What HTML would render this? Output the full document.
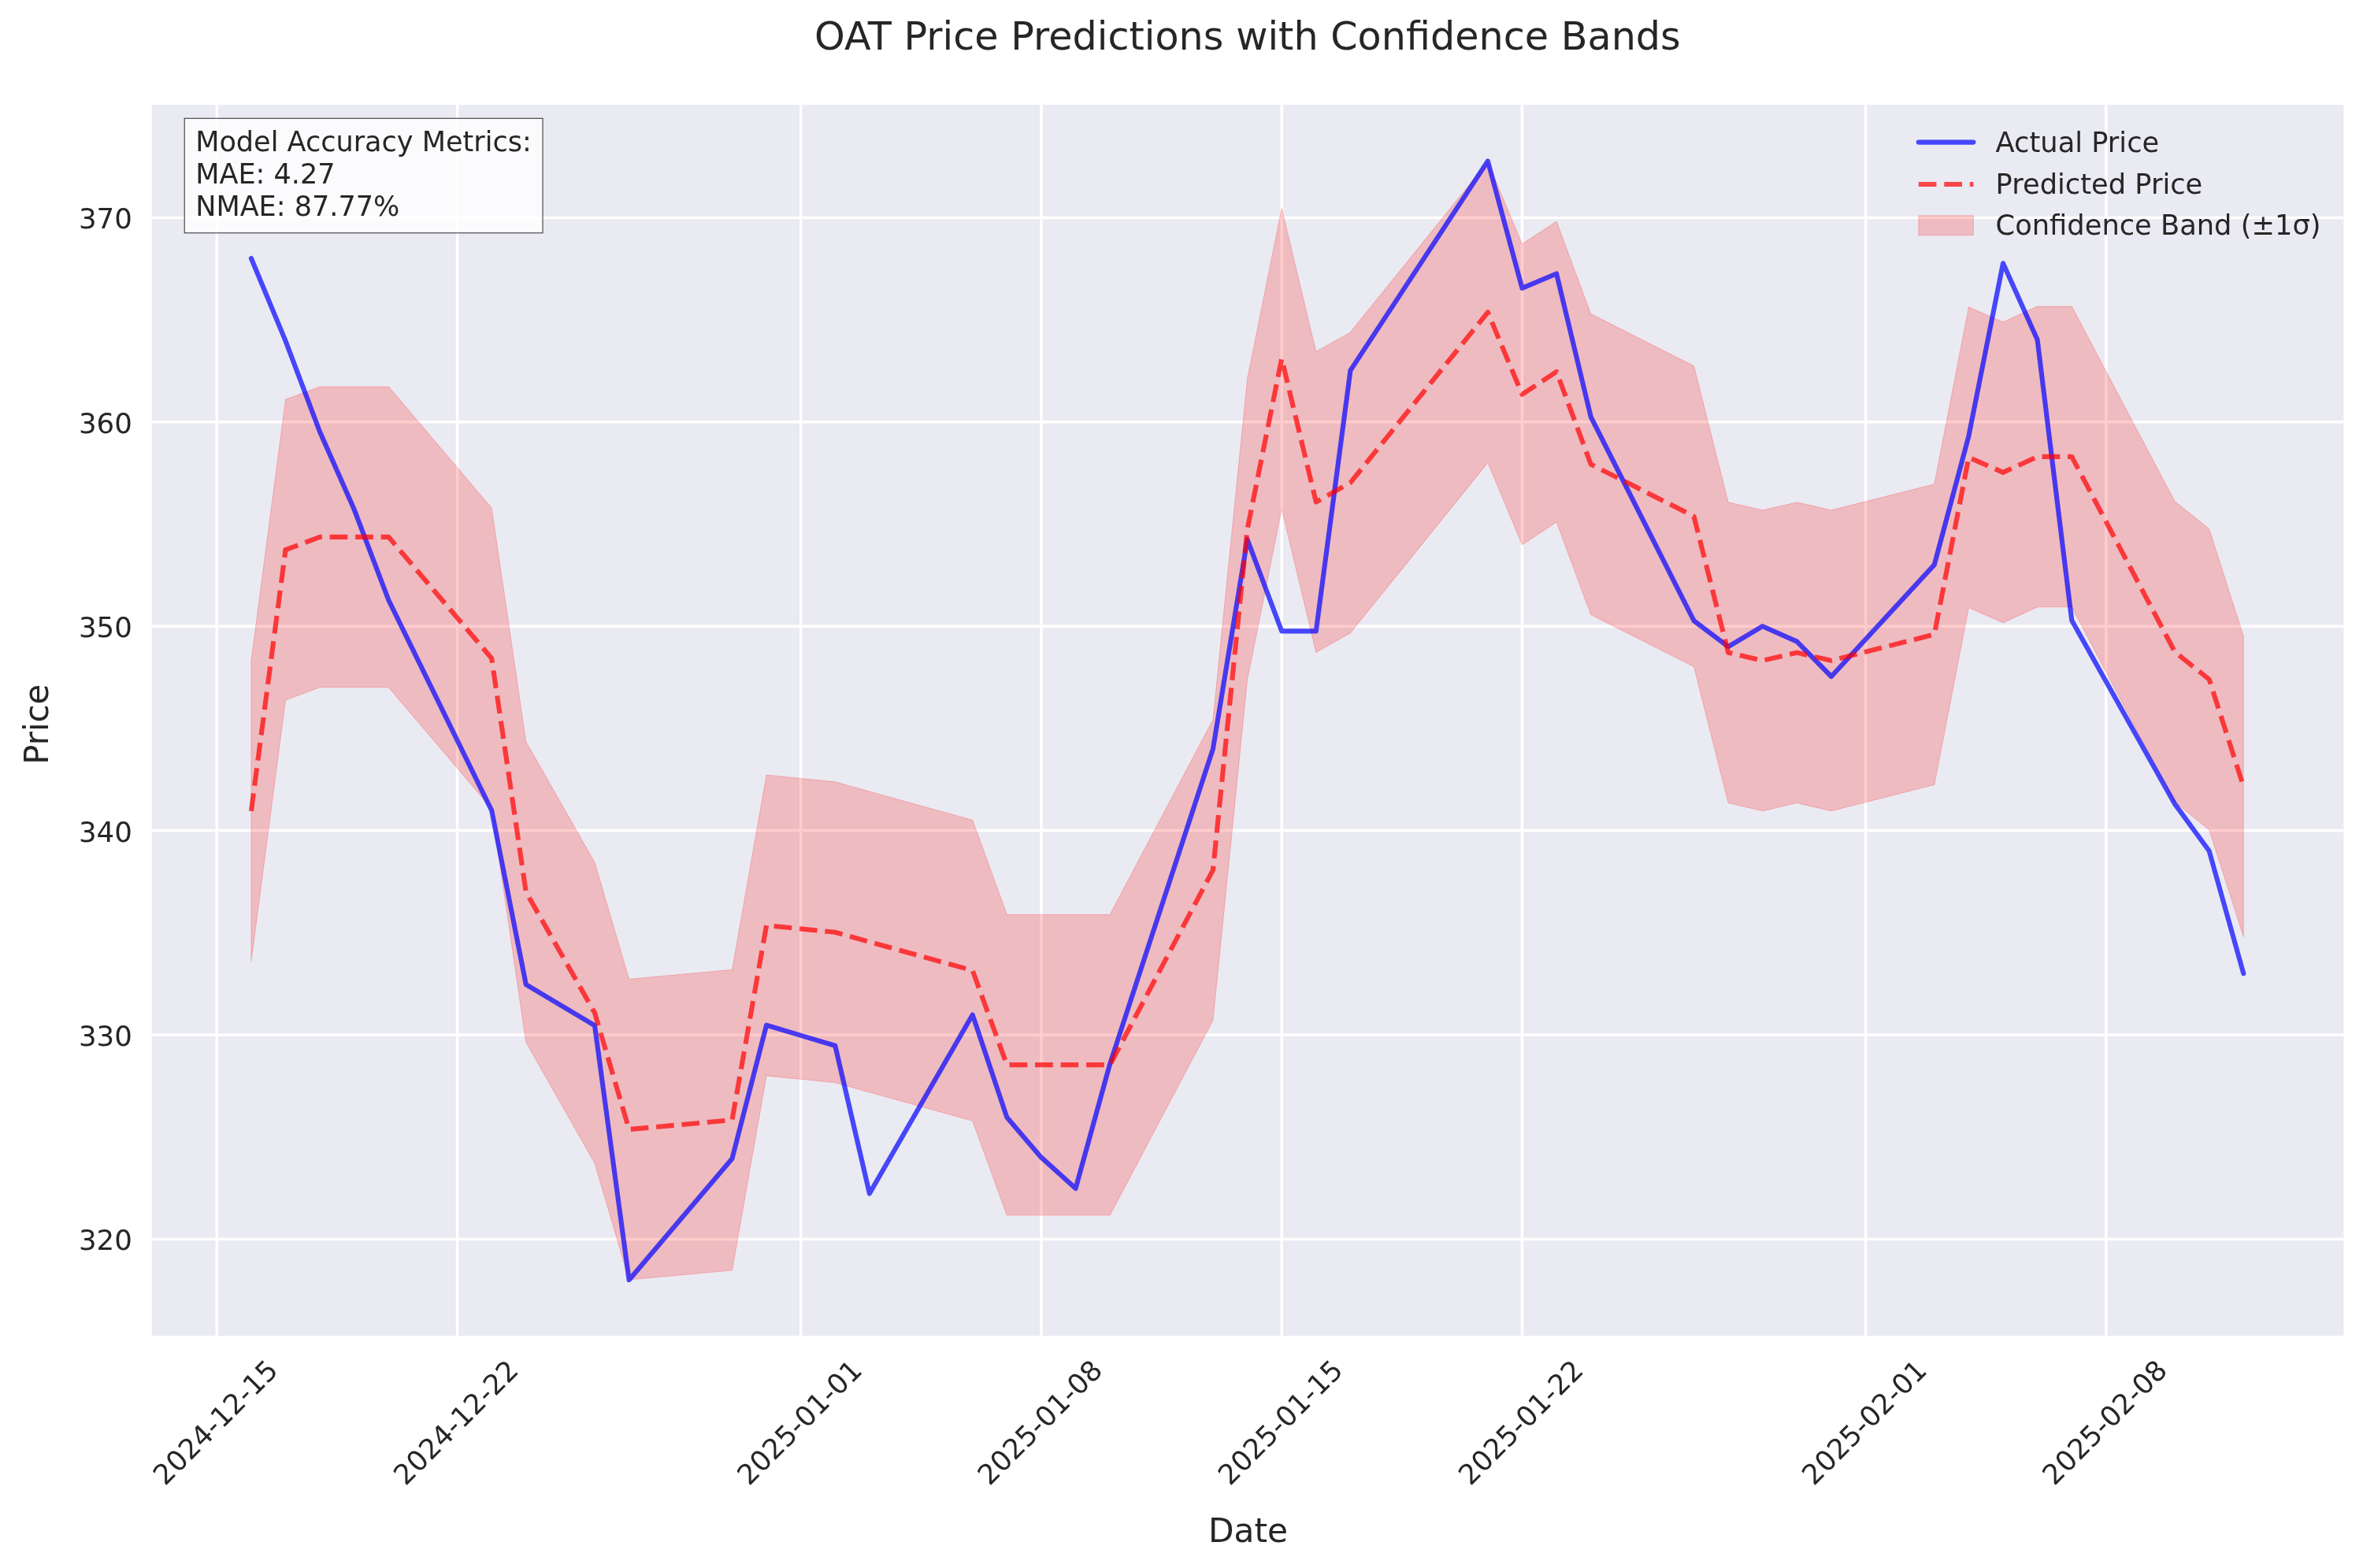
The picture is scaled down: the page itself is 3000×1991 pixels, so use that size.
<!DOCTYPE html>
<html><head><meta charset="utf-8"><title>OAT Price Predictions with Confidence Bands</title>
<style>html,body{margin:0;padding:0;background:#fff;width:3000px;height:1991px;overflow:hidden}svg{display:block;will-change:transform}text{font-family:'DejaVu Sans', 'Liberation Sans', sans-serif;fill:#262626}</style></head><body>
<svg width="3000" height="1991" viewBox="0 0 3000 1991">
<rect x="0" y="0" width="3000" height="1991" fill="#ffffff"/>
<defs><clipPath id="ax"><rect x="192.76" y="133.2" width="2782.64" height="1562.9"/></clipPath></defs>
<rect x="192.76" y="133.2" width="2782.64" height="1562.9" fill="#eaeaf2"/>
<g clip-path="url(#ax)" stroke="#ffffff" stroke-width="3.5" stroke-linecap="round" fill="none">
<line x1="275.3" y1="1696.1" x2="275.3" y2="133.2"/>
<line x1="580.57" y1="1696.1" x2="580.57" y2="133.2"/>
<line x1="1016.67" y1="1696.1" x2="1016.67" y2="133.2"/>
<line x1="1321.94" y1="1696.1" x2="1321.94" y2="133.2"/>
<line x1="1627.21" y1="1696.1" x2="1627.21" y2="133.2"/>
<line x1="1932.48" y1="1696.1" x2="1932.48" y2="133.2"/>
<line x1="2368.58" y1="1696.1" x2="2368.58" y2="133.2"/>
<line x1="2673.85" y1="1696.1" x2="2673.85" y2="133.2"/>
<line x1="192.76" y1="1573.4" x2="2975.4" y2="1573.4"/>
<line x1="192.76" y1="1314" x2="2975.4" y2="1314"/>
<line x1="192.76" y1="1054.6" x2="2975.4" y2="1054.6"/>
<line x1="192.76" y1="795.2" x2="2975.4" y2="795.2"/>
<line x1="192.76" y1="535.8" x2="2975.4" y2="535.8"/>
<line x1="192.76" y1="276.4" x2="2975.4" y2="276.4"/>
</g>
<g clip-path="url(#ax)">
<polygon points="318.91,839.04 362.52,507.27 406.13,490.92 449.74,490.92 493.35,490.92 624.18,645.01 667.79,941.76 755.01,1095.07 798.62,1243.18 929.45,1231.25 973.06,984.04 1060.28,992.86 1103.89,1005.05 1234.72,1041.37 1278.33,1161.21 1321.94,1161.21 1365.55,1161.21 1409.16,1161.21 1539.99,913.75 1583.6,481.07 1627.21,264.47 1670.82,446.57 1714.43,421.92 1888.87,205.58 1932.48,309.86 1976.09,281.07 2019.7,398.58 2150.53,464.72 2194.14,637.74 2237.75,647.86 2281.36,637.74 2324.97,647.86 2455.8,614.66 2499.41,389.76 2543.02,408.95 2586.63,388.98 2630.24,388.98 2761.07,636.71 2804.68,671.73 2848.29,807.65 2848.29,1189.49 2804.68,1053.56 2761.07,1018.54 2630.24,770.82 2586.63,770.82 2543.02,790.79 2499.41,771.59 2455.8,996.49 2324.97,1029.7 2281.36,1019.58 2237.75,1029.7 2194.14,1019.58 2150.53,846.56 2019.7,780.41 1976.09,662.91 1932.48,691.7 1888.87,587.42 1714.43,803.76 1670.82,828.4 1627.21,646.3 1583.6,862.9 1539.99,1295.58 1409.16,1543.05 1365.55,1543.05 1321.94,1543.05 1278.33,1543.05 1234.72,1423.21 1103.89,1386.89 1060.28,1374.7 973.06,1365.88 929.45,1613.09 798.62,1625.02 755.01,1476.9 667.79,1323.6 624.18,1026.84 493.35,872.76 449.74,872.76 406.13,872.76 362.52,889.1 318.91,1220.88" fill="#ff0000" fill-opacity="0.2" stroke="#ff0000" stroke-opacity="0.2" stroke-width="1.04" stroke-linejoin="round"/>
<polyline points="318.91,328.02 362.52,432.82 406.13,548.51 449.74,647.08 493.35,762 624.18,1029.18 667.79,1250.19 755.01,1302.07 798.62,1625.28 929.45,1471.2 973.06,1301.81 1060.28,1327.75 1103.89,1515.55 1234.72,1288.58 1278.33,1418.8 1321.94,1469.64 1365.55,1509.07 1409.16,1350.83 1539.99,950.84 1583.6,684.96 1627.21,801.43 1670.82,801.43 1714.43,470.43 1888.87,204.55 1932.48,365.89 1976.09,347.48 2019.7,529.32 2150.53,788.2 2194.14,821.14 2237.75,795.2 2281.36,814.66 2324.97,859.01 2455.8,717.12 2499.41,553.7 2543.02,334.25 2586.63,431.52 2630.24,787.68 2761.07,1020.88 2804.68,1080.54 2848.29,1236.18" fill="none" stroke="#0000ff" stroke-opacity="0.7" stroke-width="6.13" stroke-linejoin="round" stroke-linecap="round"/>
<g opacity="0.7" fill="none" stroke="#ff0000" stroke-width="6.13" stroke-linejoin="round" stroke-linecap="butt" stroke-dasharray="22.68 9.81">
<polyline points="318.91,1029.96 362.52,698.18"/>
<polyline points="362.52,698.18 406.13,681.84 449.74,681.84 493.35,681.84 624.18,835.93 667.79,1132.68 755.01,1285.98 798.62,1434.1 929.45,1422.17 973.06,1174.96 1060.28,1183.78 1103.89,1195.97 1234.72,1232.29 1278.33,1352.13 1321.94,1352.13 1365.55,1352.13 1409.16,1352.13 1539.99,1104.66 1583.6,671.99 1627.21,455.39 1670.82,637.48 1714.43,612.84 1888.87,396.5 1932.48,500.78 1976.09,471.99 2019.7,589.5 2150.53,655.64 2194.14,828.66 2237.75,838.78 2281.36,828.66 2324.97,838.78 2455.8,805.58 2499.41,580.68 2543.02,599.87 2586.63,579.9 2630.24,579.9 2761.07,827.62 2804.68,862.64 2848.29,998.57" stroke-dashoffset="5.9"/>
<circle cx="362.52" cy="698.18" r="3.065" fill="#ff0000" stroke="none"/>
</g>
</g>
<text x="167.9" y="1587.3" font-size="35.6" text-anchor="end">320</text>
<text x="167.9" y="1327.9" font-size="35.6" text-anchor="end">330</text>
<text x="167.9" y="1068.5" font-size="35.6" text-anchor="end">340</text>
<text x="167.9" y="809.1" font-size="35.6" text-anchor="end">350</text>
<text x="167.9" y="549.7" font-size="35.6" text-anchor="end">360</text>
<text x="167.9" y="290.3" font-size="35.6" text-anchor="end">370</text>
<text x="355" y="1742" font-size="35.4" text-anchor="end" transform="rotate(-45 355 1742)">2024-12-15</text>
<text x="660.27" y="1742" font-size="35.4" text-anchor="end" transform="rotate(-45 660.27 1742)">2024-12-22</text>
<text x="1096.37" y="1742" font-size="35.4" text-anchor="end" transform="rotate(-45 1096.37 1742)">2025-01-01</text>
<text x="1401.64" y="1742" font-size="35.4" text-anchor="end" transform="rotate(-45 1401.64 1742)">2025-01-08</text>
<text x="1706.91" y="1742" font-size="35.4" text-anchor="end" transform="rotate(-45 1706.91 1742)">2025-01-15</text>
<text x="2012.18" y="1742" font-size="35.4" text-anchor="end" transform="rotate(-45 2012.18 1742)">2025-01-22</text>
<text x="2448.28" y="1742" font-size="35.4" text-anchor="end" transform="rotate(-45 2448.28 1742)">2025-02-01</text>
<text x="2753.55" y="1742" font-size="35.4" text-anchor="end" transform="rotate(-45 2753.55 1742)">2025-02-08</text>
<text x="1584.6" y="1957.7" font-size="42.3" text-anchor="middle">Date</text>
<text x="61" y="919.7" font-size="41.9" text-anchor="middle" transform="rotate(-90 61 919.7)">Price</text>
<text x="1583.9" y="62.8" font-size="49.24" text-anchor="middle">OAT Price Predictions with Confidence Bands</text>
<rect x="234.2" y="150.3" width="454.8" height="145.5" fill="#ffffff" fill-opacity="0.8" stroke="#000000" stroke-opacity="0.8" stroke-width="1.04"/>
<text x="248.2" y="192.3" font-size="35.05">Model Accuracy Metrics:</text>
<text x="248.2" y="233" font-size="35.05">MAE: 4.27</text>
<text x="248.2" y="273.7" font-size="35.05">NMAE: 87.77%</text>
<line x1="2435.8" y1="180.6" x2="2505.4" y2="180.6" stroke="#0000ff" stroke-opacity="0.7" stroke-width="6.13" stroke-linecap="round"/>
<line x1="2435.8" y1="234" x2="2505.4" y2="234" stroke="#ff0000" stroke-opacity="0.7" stroke-width="6.13" stroke-linecap="butt" stroke-dasharray="22.68 9.81"/>
<rect x="2435.8" y="273.8" width="69.6" height="24.9" fill="#ff0000" fill-opacity="0.2" stroke="#ff0000" stroke-opacity="0.2" stroke-width="1.04"/>
<text x="2533.6" y="193.3" font-size="35.25">Actual Price</text>
<text x="2533.6" y="245.7" font-size="35.25">Predicted Price</text>
<text x="2533.6" y="297.6" font-size="35.25">Confidence Band (±1σ)</text>
</svg></body></html>
